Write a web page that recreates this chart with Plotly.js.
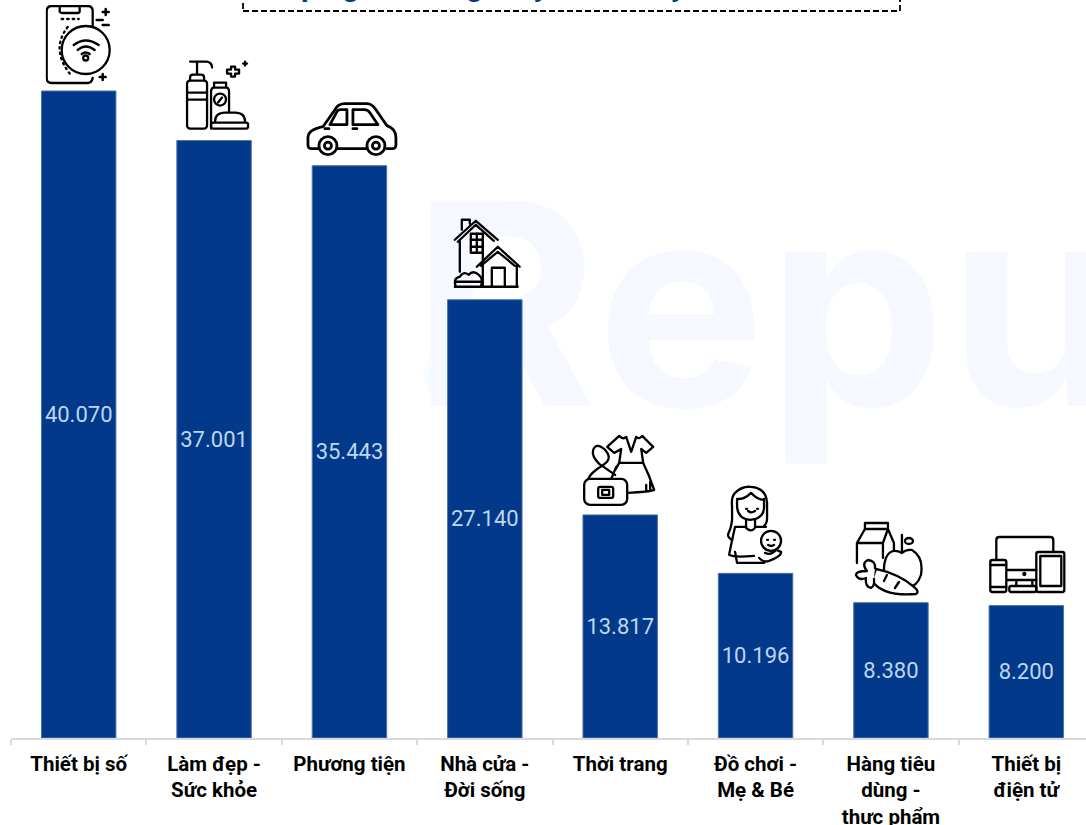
<!DOCTYPE html>
<html>
<head>
<meta charset="utf-8">
<script src="https://cdn.plot.ly/plotly-3.0.1.min.js"></script>
<style>
html,body{margin:0;padding:0;width:1086px;height:825px;overflow:hidden;background:#fff}
#wrap{position:relative;width:1086px;height:825px;overflow:hidden}
#mark{position:absolute;left:412px;top:163px;font:700 282px/1 Inter,sans-serif;color:#f5f8ff;white-space:nowrap;letter-spacing:3px}
#dot{position:absolute;left:423px;top:347px;width:56px;height:56px;border-radius:50%;background:#f5fdff}
#chart{position:absolute;left:0;top:0}
</style>
</head>
<body>
<div id="wrap">
<div id="dot"></div>
<div id="mark">Repu</div>
<div id="chart"></div>
</div>
<script>
const categories = ["Thiết bị số","Làm đẹp -<br>Sức khỏe","Phương tiện","Nhà cửa -<br>Đời sống","Thời trang","Đồ chơi -<br>Mẹ & Bé","Hàng tiêu<br>dùng -<br>thực phẩm","Thiết bị<br>điện tử"];
const values = [40070,37001,35443,27140,13817,10196,8380,8200];
const titleText = "Top ngành hàng thay nhiều hay ít nhất";

const BLUE = "#03398a";
const W = 1094, H = 825, L = 11, B = 87;
const yMax = 45705;
const pxX = (W - L) / categories.length;
const pxY = (H - B) / yMax;

const ink = 'fill="none" stroke="#000" stroke-width="2.3" stroke-linecap="round" stroke-linejoin="round"';
const plus = (x,y,s) => `M${x-s} ${y}H${x+s}M${x} ${y-s}V${y+s}`;
const icons = [
 {box:[46,5,66,80], dx:0, lift:6, g:`
  <path d="M93 26V11Q93 6 88 6H52Q47 6 47 11V78Q47 83 52 83H88Q92 83 93 78M60 7V11Q60 13 63 13H78Q80 13 80 11V7"/>
  <circle cx="86" cy="50" r="24"/>
  <path d="M74 45Q86 36 99 45M78 50Q86 43 95 50M82 54Q86 51 90 54"/>
  <circle cx="86" cy="58" r="2.5"/>
  <path d="M62 19H79M68 27Q50 50 72 76" stroke-dasharray="1.5 4"/>
  <path d="${plus(106,12,3)}${plus(103,77,3)}M97 20H103M103 25H109" stroke-width="2.5"/>`},
 {box:[185,59,66,73], dx:4, lift:9, g:`
  <path d="M190 62H207Q212 63 212 68M197 62V75M190 81V78Q190 75 193 75H201Q204 75 204 78V81"/>
  <rect x="187" y="81" width="20" height="48" rx="3"/>
  <path d="M187 93H207M187 100H207"/>
  <path d="M211 129V92Q211 88 214 88H226Q229 88 229 92V112M214 88V83H226V88"/>
  <circle cx="220" cy="100" r="6"/><path d="M218 103L222 98"/>
  <path d="M215 122Q215 113 225 113H235Q245 113 245 122"/>
  <rect x="211" y="123" width="37" height="6" rx="2"/>
  <path d="M231 70V67H235V70H239V74H235V77H231V74H227V70Z"/>
  <path d="${plus(245,64,2)}"/>`},
 {box:[305,102,93,57], dx:2, lift:7, g:`
  <g stroke-width="2.8"><path d="M319 149H312Q308 149 308 145V138Q308 130 323 127L335 110Q338 104 345 104H367Q372 104 376 110L387 126Q396 129 396 138V145Q396 149 392 149H387M337 149H367"/>
  <path d="M330 125L337 112Q338 110 341 110H347V125ZM353 110H364Q368 110 370 113L378 125H353Z"/>
  <circle cx="328" cy="146" r="9"/><circle cx="328" cy="146" r="3.5"/>
  <circle cx="376" cy="146" r="9"/><circle cx="376" cy="146" r="3.5"/>
  <path d="M325 129H329M353 129H357"/></g>`},
 {box:[453,217,68,72], dx:2, lift:11, g:`
  <path d="M455 240L476 221L498 240M458 242L476 225L494 241M462 230V220H470V224M460 241V272M483 262V240"/>
  <rect x="471" y="234" width="12" height="19"/><path d="M477 234V253M471 240H483M471 247H483"/>
  <path d="M477 267L498 247L520 267M481 266L498 252L515 266M483 265V287M517 266V287"/>
  <path d="M492 287V268H505V287M455 287H518"/>
  <path d="M456 287Q453 278 460 277Q463 271 469 275Q473 270 479 275Q484 279 481 287M456 282H481"/>`},
 {box:[583,433,74,74], dx:-1, lift:8, g:`
  <path d="M608 447L620 436Q624 440 627 437L632 452L637 437Q640 440 643 436L654 447L647 453L642 449L644 463H620L622 449L615 453Z"/>
  <path d="M620 463L616 470M644 463Q650 475 655 490Q650 492 628 493M647 485V492M651 482V491"/>
  <path d="M589 479Q591 473 604 465Q614 459 606 450Q597 442 594 450Q592 456 600 464L616 475"/>
  <path d="M612 479L617 467"/>
  <rect x="585" y="479" width="43" height="26" rx="6" fill="#fff"/>
  <rect x="599" y="487" width="15" height="11" rx="2"/><rect x="603" y="490" width="7" height="5"/>`},
 {box:[725,485,59,82], dx:-2, lift:6.5, g:`
  <path d="M733 507Q732 497 736 493Q743 486 752 487Q767 488 768 503V518Q768 524 765 526"/>
  <path d="M733 507V520Q732 528 730 532Q727 537 733 540"/>
  <path d="M738 499Q745 500 752 493Q758 500 765 500M738 499V507Q739 519 751 520Q765 519 765 507V499"/>
  <path d="M747 512h1M758 512h1M749 514Q752 517 756 514" transform="translate(0 -3)"/>
  <path d="M747 520V528Q752 533 756 528V520M756 527L767 527M747 527L736 527Q733 540 730 555Q735 558 755 556"/>
  <path d="M736 552L738 563H765L768 558"/>
  <path d="M766 553Q772 556 777 550L782 552Q783 556 770 561Q764 563 760 558" fill="#fff"/>
  <circle cx="772" cy="541" r="10" fill="#fff"/>
  <path d="M768 540h1M775 540h1M769 545Q772 547 775 545"/>`},
 {box:[854,521,72,76], dx:-2, lift:5.7, g:`
  <rect x="866" y="523" width="23" height="6"/>
  <path d="M866 529L858 543V563M889 529L895 543V556M858 543H884L889 529M884 543V558"/>
  <path d="M903 535V557"/><path d="M903 553Q892 547 887 558Q881 575 893 586Q900 590 904 586Q917 590 922 575Q925 557 913 550Q907 549 903 553Z" fill="#fff"/>
  <ellipse cx="910" cy="541" rx="4" ry="3"/>
  <path d="M877 569Q900 574 915 587Q921 592 917 594Q885 597 873 581Z" fill="#fff"/>
  <path d="M876 568Q877 561 869 560Q862 563 868 571Q857 571 857 575Q860 581 867 578Q866 587 872 588Q876 586 875 579" fill="#fff"/>
  <path d="M888 575L885 581M900 582L896 588"/>`},
 {box:[989,535,78,59], dx:1, lift:11.6, g:`
  <path d="M997 560V540Q997 537 1000 537H1051Q1054 537 1054 540V552M1008 570H1037"/>
  <circle cx="1025" cy="574" r="1"/>
  <path d="M1017 580V585M1033 580V585M1008 580H1037"/>
  <rect x="1010" y="586" width="27" height="6" rx="2"/>
  <rect x="991" y="560" width="16" height="32" rx="2"/><path d="M991 565H1007M991 587H1007"/>
  <rect x="1037" y="552" width="28" height="40" rx="2"/><rect x="1041" y="556" width="21" height="30"/>`}
];
const images = icons.map((ic,i) => {
  const [bx,by,bw,bh] = ic.box;
  const svg = `<svg xmlns="http://www.w3.org/2000/svg" width="${bw*3}" height="${bh*3}" viewBox="${bx} ${by} ${bw} ${bh}"><g ${ink}>${ic.g}</g></svg>`;
  return {source:"data:image/svg+xml;charset=utf-8,"+encodeURIComponent(svg), xref:"x", yref:"y",
    x:i+ic.dx/pxX, y:values[i]+ic.lift/pxY, sizex:bw/pxX, sizey:bh/pxY,
    xanchor:"center", yanchor:"bottom", sizing:"stretch", layer:"above"};
});

const plotH = H - B;
const trace = {
  type:"bar", x:categories, y:values,
  marker:{color:BLUE, line:{color:"#4d73ad", width:1}},
  texttemplate:"%{y:,.0f}", textposition:"inside", insidetextanchor:"middle", textangle:0,
  insidetextfont:{family:"Roboto, sans-serif", size:22, color:"#bdd7ee"},
  constraintext:"none", hoverinfo:"skip"
};
const layout = {
  width:W, height:H, margin:{l:L, r:0, t:0, b:B, pad:0},
  paper_bgcolor:"rgba(0,0,0,0)", plot_bgcolor:"rgba(0,0,0,0)",
  separators:",.", showlegend:false, bargap:0.45, images:images,
  xaxis:{type:"category", tickson:"boundaries", ticks:"outside", ticklen:5, tickwidth:2, tickcolor:"#d9d9d9",
    showline:true, linecolor:"#d9d9d9", linewidth:2, showgrid:false, automargin:false, tickangle:0, ticklabelstandoff:6,
    tickfont:{family:"Roboto, sans-serif", size:20.5, color:"#000", weight:700}, range:[-0.5,7.5]},
  yaxis:{visible:false, range:[0,yMax], fixedrange:true},
  shapes:[{type:"rect", xref:"paper", yref:"paper", x0:(243-L)/(W-L), x1:(900-L)/(W-L),
    y0:1-11/plotH, y1:1+20/plotH, line:{color:"#000", width:1.8, dash:"6px,3px"}}],
  annotations:[{xref:"paper", yref:"paper", x:(266-L)/(W-L), y:1-5/plotH, xanchor:"left", yanchor:"bottom",
    showarrow:false, text:"<b>"+titleText+"</b>", font:{family:"Roboto, sans-serif", size:30, color:BLUE}}]
};
Plotly.newPlot("chart",[trace],layout,{displayModeBar:false,staticPlot:true});
</script>
</body>
</html>
